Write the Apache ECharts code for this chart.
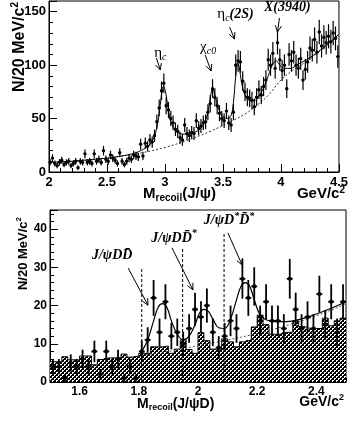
<!DOCTYPE html>
<html><head><meta charset="utf-8">
<script src="https://cdn.jsdelivr.net/npm/echarts@6/dist/echarts.min.js"></script>
<style>html,body{margin:0;padding:0;background:#fff}#c{width:351px;height:421px}</style>
</head><body><div id="c"></div>
<script>
// ---------- TOP PANEL: M_recoil(J/psi), 20 MeV bins ----------
const topMass = [2.01,2.03,2.05,2.07,2.09,2.11,2.13,2.15,2.17,2.19,2.21,2.23,2.25,2.27,2.29,2.31,2.33,2.35,2.37,2.39,
2.41,2.43,2.45,2.47,2.49,2.51,2.53,2.55,2.57,2.59,2.61,2.63,2.65,2.67,2.69,2.71,2.73,2.75,2.77,2.79,
2.81,2.83,2.85,2.87,2.89,2.91,2.93,2.95,2.97,2.99,3.01,3.03,3.05,3.07,3.09,3.11,3.13,3.15,3.17,3.19,
3.21,3.23,3.25,3.27,3.29,3.31,3.33,3.35,3.37,3.39,3.41,3.43,3.45,3.47,3.49,3.51,3.53,3.55,3.57,3.59,
3.61,3.63,3.65,3.67,3.69,3.71,3.73,3.75,3.77,3.79,3.81,3.83,3.85,3.87,3.89,3.91,3.93,3.95,3.97,3.99,
4.01,4.03,4.05,4.07,4.09,4.11,4.13,4.15,4.17,4.19,4.21,4.23,4.25,4.27,4.29,4.31,4.33,4.35,4.37,4.39,
4.41,4.43,4.45,4.47,4.49];
const topCounts = [9,13,8,6,9,11,7,9,10,6,8,10,4,10,9,17,9,10,8,17,
10,12,9,20,12,10,16,13,11,8,18,10,7,10,13,12,16,15,14,26,
15,27,24,30,28,34,47,60,76,83,62,58,50,46,40,38,32,30,44,36,
34,37,36,48,41,43,46,47,56,64,78,70,62,55,50,48,57,46,44,56,
100,104,103,85,75,70,69,67,61,70,77,72,80,86,105,100,111,97,121,105,
95,100,78,110,104,112,100,97,106,86,96,103,116,114,124,112,131,118,126,121,
127,122,130,125,108];
const topFitMass = [2.0,2.1,2.2,2.3,2.4,2.5,2.6,2.7,2.75,2.8,2.85,2.9,2.93,2.95,2.97,2.985,3.0,3.02,3.04,3.07,3.1,3.15,3.2,3.25,3.3,3.34,3.37,3.39,3.41,3.43,3.46,3.5,3.54,3.57,3.59,3.61,3.625,3.64,3.66,3.69,3.73,3.77,3.81,3.85,3.89,3.93,3.96,3.99,4.03,4.08,4.15,4.25,4.35,4.45,4.5];
const topFitVal  = [9,9.5,10,11,12,13,14.5,16.5,18,20.5,24,31,42,55,72,80,77,65,52,42,38,35.5,35.5,37,40,46,56,69,78,72,60,52,50,53,65,90,102,98,84,72,67,67,71,79,90,101,104,100,97,97,101,107,115,124,129];
const topBgMass = [2.0,2.2,2.4,2.6,2.8,3.0,3.2,3.4,3.6,3.7,3.8,3.9,4.0,4.1,4.2,4.3,4.4,4.5];
const topBgVal  = [9,10,12,14.5,18,23,30,38.5,49,55,63,73,86,95,102,110,119,129];

// ---------- BOTTOM PANEL: M_recoil(J/psi D), 20 MeV bins ----------
const botMass = [1.51,1.53,1.55,1.57,1.59,1.61,1.63,1.65,1.67,1.69,1.71,1.73,1.75,1.77,1.79,1.81,1.83,1.85,1.87,1.89,
1.91,1.93,1.95,1.97,1.99,2.01,2.03,2.05,2.07,2.09,2.11,2.13,2.15,2.17,2.19,2.21,2.23,2.25,2.27,2.29,
2.31,2.33,2.35,2.37,2.39,2.41,2.43,2.45,2.47,2.49];
const botCounts = [4,4,1,5,4,6,4,8,2,8,4,6,1,4,1,8,11,22,13,21,
12,13,10,14,19,17,20,13,9,12,16,14,27,22,25,16,21,16,16,14,
27,19,14,17,14,23,15,21,13,21];
const botSideband = [5.3,5.3,6.6,5.8,5.8,6.8,6.8,4.5,5.9,6.3,6.3,6.3,7.3,6.5,6.8,7.5,7.5,9.2,9.2,9.4,
7.5,8.6,11,8.5,7.5,12.9,10.8,8.6,8.6,11.3,10.5,9.2,10.5,11,14.4,17.5,15,12.5,12.5,13,
13,16,14.5,14,14,14,16.7,14.7,16,16.7];
const botFitMass = [1.81,1.83,1.85,1.865,1.88,1.895,1.91,1.93,1.95,1.97,1.99,2.005,2.02,2.035,2.05,2.07,2.09,2.11,2.13,2.145,2.16,2.175,2.19,2.21,2.23,2.26,2.30,2.35,2.40,2.45,2.50];
const botFitVal  = [8,11,16,19.5,20.5,19.5,16,12.5,11,12,15,18,19,18.5,16.5,14.2,14,16.5,21.5,25,26,25,21.5,17.5,16.3,15.8,15.8,16.5,17.8,19.3,21];
const botBgMass = [1.81,1.9,2.0,2.1,2.2,2.3,2.4,2.5];
const botBgVal  = [7,8,9.5,11,12.7,14.8,17.3,20.5];
const thresholdMass = [1.81,1.948,2.088];
const thresholdTop  = [30,35,39];
const botMajorTicks = [1.6,1.8,2.0,2.2,2.4];
const botMinorTicks = [1.5,1.55,1.65,1.7,1.75,1.85,1.9,1.95,2.05,2.1,2.15,2.25,2.3,2.35,2.45,2.5];

// annotation anchors (data coordinates): [label, labelM, labelV, arrowStartM, arrowStartV, tipM, tipV]
const topNotes = [
  ['{n|η}{s|c}',            2.96, 111, 2.926,106.7, 2.96, 95.4],
  ['{n|χ}{s|c0}',           3.372,117, 3.347,109.5, 3.397,94.5],
  ['{n|η}{s|c}{b|(2S)}',    3.608,147.8,3.557,135.7,3.599,124.4],
  ['{b|X(3940)}',           4.054,154.4,3.987,144.1,3.97,131]
];
const botNotes = [
  ['{b|J/ψDD\u0304}',              1.71, 33.2, 1.764,29.8, 1.831,20.1],
  ['{b|J/ψDD\u0304}{p|*}',         1.919,37.7, 1.912,35.1, 1.983,24.1],
  ['{b|J/ψD}{p|*}{b|D\u0304}{p|*}',2.105,42.4, 2.101,39.0, 2.149,30.6]
];

// ---------- build ----------
const chart = echarts.init(document.getElementById('c'), null, {renderer:'canvas'});
const pat = document.createElement('canvas'); pat.width = 4; pat.height = 4;
const pg = pat.getContext('2d'); pg.fillStyle = '#000'; pg.fillRect(0,0,4,4);
pg.fillStyle = '#fff';
pg.fillRect(0,0,2,1); pg.fillRect(0,1,1,1);
pg.fillRect(2,2,2,1); pg.fillRect(2,3,1,1);

const SANS = 'Liberation Sans', SERIF = 'Liberation Serif';
function yAx(grid, max, interval, split, fs) {
  return { type:'value', gridIndex:grid, min:0, max:max, interval:interval,
    axisLine:{show:true, lineStyle:{color:'#000', width:1}},
    axisTick:{show:true, inside:true, length:8, lineStyle:{color:'#000'}},
    minorTick:{show:true, splitNumber:split, length:4, lineStyle:{color:'#000'}},
    splitLine:{show:false}, minorSplitLine:{show:false},
    axisLabel:{color:'#000', fontWeight:'bold', fontFamily:SANS, fontSize:fs, margin:3,
      formatter: v => (Math.abs(v/interval - Math.round(v/interval)) < 1e-6 ? String(v) : '')}
  };
}
const pairs = (a,b) => a.map((x,i)=>[x,b[i]]);

function pointRender(hw, lw, r) {
  return function(params, api) {
    const x = api.value(0), y = api.value(1), e = Math.sqrt(Math.max(y,0));
    const p = api.coord([x,y]), t = api.coord([x,y+e]), b = api.coord([x,Math.max(0,y-e)]);
    const l = api.coord([x-hw,y]), rr = api.coord([x+hw,y]);
    return {type:'group', children:[
      {type:'line', shape:{x1:p[0],y1:t[1],x2:p[0],y2:b[1]}, style:{stroke:'#000', lineWidth:lw}},
      {type:'line', shape:{x1:l[0],y1:p[1],x2:rr[0],y2:p[1]}, style:{stroke:'#000', lineWidth:lw}},
      {type:'circle', shape:{cx:p[0],cy:p[1],r:r}, style:{fill:'#000'}}
    ]};
  };
}

const histEdges = botMass.map((m,i)=>[Math.round((m-0.01)*1000)/1000, botSideband[i]]);
histEdges.push([Math.round((botMass[botMass.length-1]+0.01)*1000)/1000, botSideband[botSideband.length-1]]);

chart.setOption({
  animation:false,
  backgroundColor:'#fff',
  grid:[
    {left:49, top:1, width:297, height:171, show:true, borderColor:'#000', borderWidth:1, backgroundColor:'transparent'},
    {left:50, top:210, width:296, height:172, show:true, borderColor:'#000', borderWidth:1, backgroundColor:'transparent'}
  ],
  xAxis:[
    { type:'value', gridIndex:0, min:2, max:4.5, interval:0.5,
      axisLine:{show:true, lineStyle:{color:'#000'}},
      axisTick:{show:true, inside:true, length:8, lineStyle:{color:'#000'}},
      minorTick:{show:true, splitNumber:5, length:4, lineStyle:{color:'#000'}},
      splitLine:{show:false},
      axisLabel:{color:'#000', fontWeight:'bold', fontFamily:SANS, fontSize:13, margin:4}},
    { type:'value', gridIndex:1, min:1.5, max:2.5,
      axisLine:{show:true, lineStyle:{color:'#000'}},
      axisTick:{show:true, inside:true, length:8, customValues:botMajorTicks, lineStyle:{color:'#000'}},
      splitLine:{show:false},
      axisLabel:{color:'#000', fontWeight:'bold', fontFamily:SANS, fontSize:12, margin:4, customValues:botMajorTicks}},
    { type:'value', gridIndex:1, min:1.5, max:2.5, position:'bottom',
      axisLine:{show:false},
      axisTick:{show:true, inside:true, length:4, customValues:botMinorTicks, lineStyle:{color:'#000'}},
      splitLine:{show:false}, axisLabel:{show:false}}
  ],
  yAxis:[ yAx(0,160,50,5,13), yAx(1,45,10,5,12) ],
  series:[
    {type:'line', xAxisIndex:0, yAxisIndex:0, data:pairs(topBgMass,topBgVal), showSymbol:false, smooth:0.4,
     lineStyle:{color:'#333', width:1, type:[2,2]}, z:2},
    {type:'line', xAxisIndex:0, yAxisIndex:0, data:pairs(topFitMass,topFitVal), showSymbol:false, smooth:0.4,
     lineStyle:{color:'#000', width:1}, z:3},
    {type:'custom', xAxisIndex:0, yAxisIndex:0, data:pairs(topMass,topCounts), renderItem:pointRender(0.01,1.2,1.7), z:4},

    {type:'custom', xAxisIndex:1, yAxisIndex:1, data:pairs(botMass,botSideband), z:1,
     renderItem:function(params, api){
       const x = api.value(0), y = api.value(1);
       const a = api.coord([x-0.01, y]), b = api.coord([x+0.01, 0]);
       const x0 = Math.round(a[0]), x1 = Math.round(b[0]);
       return {type:'rect', shape:{x:x0, y:a[1], width:x1-x0, height:b[1]-a[1]},
               style:{fill:{image:pat, repeat:'repeat'}, stroke:null}};
     }},
    {type:'line', xAxisIndex:1, yAxisIndex:1, data:histEdges, step:'end', showSymbol:false,
     lineStyle:{color:'#000', width:1}, z:2},
    {type:'custom', xAxisIndex:1, yAxisIndex:1, data:pairs(thresholdMass,thresholdTop), z:3,
     renderItem:function(params, api){
       const a = api.coord([api.value(0),0]), b = api.coord([api.value(0),api.value(1)]);
       return {type:'line', shape:{x1:a[0],y1:a[1],x2:b[0],y2:b[1]}, style:{stroke:'#000', lineWidth:1, lineDash:[3,2]}};
     }},
    {type:'line', xAxisIndex:1, yAxisIndex:1, data:pairs(botBgMass,botBgVal), showSymbol:false, smooth:0.4,
     lineStyle:{color:'#555', width:1, type:[2,2]}, z:3},
    {type:'line', xAxisIndex:1, yAxisIndex:1, data:pairs(botFitMass,botFitVal), showSymbol:false, smooth:0.4,
     lineStyle:{color:'#000', width:1.2}, z:4},
    {type:'custom', xAxisIndex:1, yAxisIndex:1, data:pairs(botMass,botCounts), renderItem:pointRender(0.01,1.8,2.1), z:5}
  ]
});

// ---------- annotations & titles ----------
const graphics = [];
const topRich = {
  n:{fontFamily:SERIF, fontSize:15, lineHeight:18, fill:'#000'},
  s:{fontFamily:SERIF, fontStyle:'italic', fontSize:10, lineHeight:10, verticalAlign:'bottom', fill:'#000'},
  b:{fontFamily:SERIF, fontStyle:'italic', fontWeight:'bold', fontSize:14, lineHeight:18, fill:'#000'}
};
const botRich = {
  b:{fontFamily:SERIF, fontStyle:'italic', fontWeight:'bold', fontSize:14, lineHeight:18, fill:'#000'},
  p:{fontFamily:SERIF, fontStyle:'italic', fontWeight:'bold', fontSize:10, lineHeight:10, verticalAlign:'top', fill:'#000'}
};
function arrow(p0, p1) {
  const dx = p1[0]-p0[0], dy = p1[1]-p0[1], L = Math.hypot(dx,dy), ux = dx/L, uy = dy/L;
  const h = 7, ang = 0.45;
  const rot = (a) => [p1[0] - h*(ux*Math.cos(a) - uy*Math.sin(a)), p1[1] - h*(ux*Math.sin(a) + uy*Math.cos(a))];
  graphics.push({type:'line', shape:{x1:p0[0],y1:p0[1],x2:p1[0],y2:p1[1]}, style:{stroke:'#000', lineWidth:1}});
  graphics.push({type:'polyline', shape:{points:[rot(ang), p1, rot(-ang)]}, style:{stroke:'#000', lineWidth:1, fill:null}});
}
function notes(list, grid, rich) {
  list.forEach(n => {
    const c = chart.convertToPixel({gridIndex:grid}, [n[1], n[2]]);
    graphics.push({type:'text', x:c[0], y:c[1], style:{text:n[0], rich:rich, align:'center', verticalAlign:'middle'}});
    arrow(chart.convertToPixel({gridIndex:grid}, [n[3], n[4]]), chart.convertToPixel({gridIndex:grid}, [n[5], n[6]]));
  });
}
notes(topNotes, 0, topRich);
notes(botNotes, 1, botRich);

function titleRich(fs) {
  return {
    m:{fontFamily:SANS, fontWeight:'bold', fontSize:fs, lineHeight:fs+3, fill:'#000'},
    sub:{fontFamily:SANS, fontWeight:'bold', fontSize:Math.round(fs*0.65), lineHeight:Math.round(fs*0.65), verticalAlign:'bottom', fill:'#000'},
    sup:{fontFamily:SANS, fontWeight:'bold', fontSize:Math.round(fs*0.65), lineHeight:Math.round(fs*0.65), verticalAlign:'top', fill:'#000'}
  };
}
// y titles
graphics.push({type:'text', x:20, y:2, rotation:Math.PI/2,
  style:{text:'{m|N/20 MeV/c}{sup|2}', rich:titleRich(16), align:'right', verticalAlign:'middle'}});
graphics.push({type:'text', x:23, y:217, rotation:Math.PI/2,
  style:{text:'{m|N/20 MeV/c}{sup|2}', rich:titleRich(13), align:'right', verticalAlign:'middle'}});
// x titles
graphics.push({type:'text', x:143, y:194, style:{text:'{m|M}{sub|recoil}{m|(J/ψ)}', rich:titleRich(15), align:'left', verticalAlign:'middle'}});
graphics.push({type:'text', x:345, y:194, style:{text:'{m|GeV/c}{sup|2}', rich:titleRich(15), align:'right', verticalAlign:'middle'}});
graphics.push({type:'text', x:137, y:404, style:{text:'{m|M}{sub|recoil}{m|(J/ψD)}', rich:titleRich(14), align:'left', verticalAlign:'middle'}});
graphics.push({type:'text', x:344, y:402, style:{text:'{m|GeV/c}{sup|2}', rich:titleRich(14), align:'right', verticalAlign:'middle'}});

chart.setOption({graphic:{elements:graphics}});
</script></body></html>
